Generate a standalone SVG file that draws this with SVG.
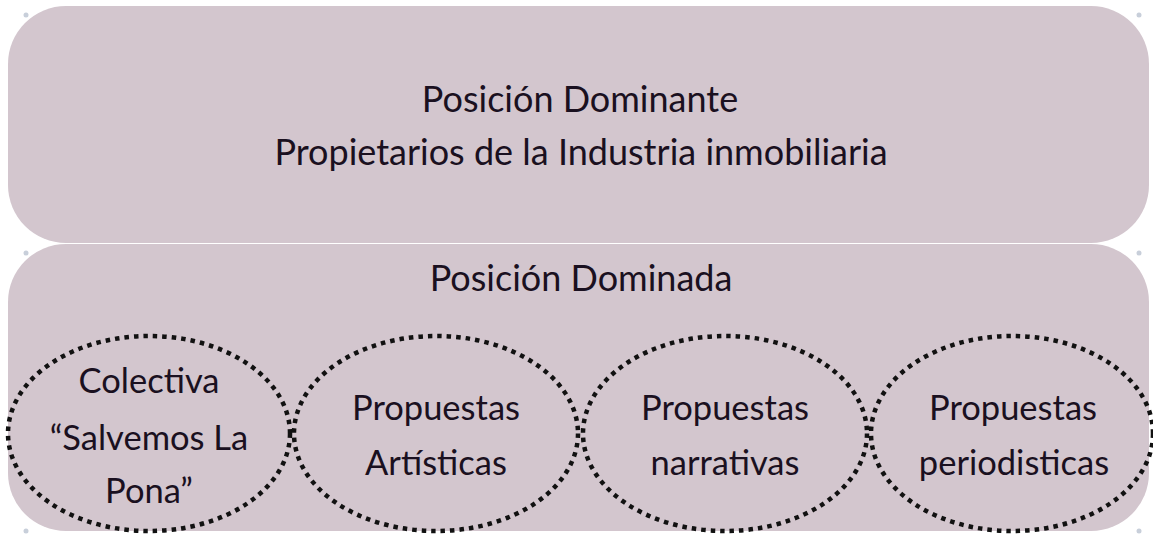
<svg xmlns="http://www.w3.org/2000/svg" width="1153" height="535" viewBox="0 0 1153 535">
<style>
.box{fill:#D3C6CE;}
.ell{fill:none;stroke:#111;stroke-width:4.5;stroke-dasharray:4.5 5;}
.t{font-family:Lato,"Open Sans",sans-serif;fill:#1a1020;text-anchor:middle;}
.big{font-size:36px;}
.sm{font-size:34.5px;}
.h{fill:#C8CFDA;}
</style>
<rect width="1153" height="535" fill="#ffffff"/>
<g id="dominante">
<rect class="box" x="8" y="6" width="1141" height="237" rx="58" ry="58"/>
<text class="t big" x="580" y="112">Posición Dominante</text>
<text class="t big" x="581" y="165">Propietarios de la Industria inmobiliaria</text>
</g>
<g id="dominada">
<rect class="box" x="8" y="244" width="1141" height="287" rx="58" ry="58"/>
<text class="t big" x="581" y="291">Posición Dominada</text>
</g>
<g id="colectiva">
<ellipse class="ell" cx="149" cy="433.5" rx="141" ry="97.5"/>
<text class="t sm" x="149" y="393">Colectiva</text>
<text class="t sm" x="149" y="450">“Salvemos La</text>
<text class="t sm" x="149" y="503">Pona”</text>
</g>
<g id="artisticas">
<ellipse class="ell" cx="436" cy="433.5" rx="142" ry="97.5"/>
<text class="t sm" x="436" y="420">Propuestas</text>
<text class="t sm" x="436" y="475">Artísticas</text>
</g>
<g id="narrativas">
<ellipse class="ell" cx="725" cy="433.5" rx="142" ry="97.5"/>
<text class="t sm" x="725" y="420">Propuestas</text>
<text class="t sm" x="725" y="475">narrativas</text>
</g>
<g id="periodisticas">
<ellipse class="ell" cx="1012" cy="433.5" rx="141" ry="97.5"/>
<text class="t sm" x="1013" y="420">Propuestas</text>
<text class="t sm" x="1014" y="475">periodisticas</text>
</g>
<g id="connectors"></g>
<g id="handles">
<circle class="h" cx="26" cy="15" r="2.5"/>
<circle class="h" cx="1139" cy="15" r="2.5"/>
<circle class="h" cx="26" cy="253" r="2.5"/>
<circle class="h" cx="1139" cy="253" r="2.5"/>
<circle class="h" cx="26" cy="531" r="2.5"/>
<circle class="h" cx="1139" cy="531" r="2.5"/>
</g>
</svg>
